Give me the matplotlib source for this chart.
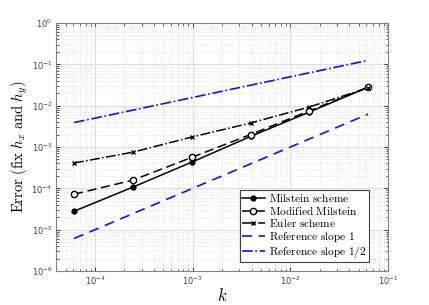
import matplotlib
matplotlib.use("Agg")
import matplotlib.pyplot as plt
from matplotlib.ticker import NullFormatter
import numpy as np

# step sizes k = 2^-14 ... 2^-4
k = [6.1035e-5, 2.4414e-4, 9.7656e-4, 3.9063e-3, 1.5625e-2, 6.25e-2]
err_milstein = [2.8e-5, 1.07e-4, 4.3e-4, 1.8e-3, 7.0e-3, 2.8e-2]
err_modified = [7.2e-5, 1.58e-4, 5.6e-4, 2.0e-3, 7.5e-3, 2.8e-2]
err_euler = [4.1e-4, 7.5e-4, 1.74e-3, 3.8e-3, 9.3e-3, 2.7e-2]
ref_slope1 = [0.1 * v for v in k]
ref_slope_half = [0.5 * np.sqrt(v) for v in k]
xticks = [1e-4, 1e-3, 1e-2, 1e-1]
yticks = [1e-6, 1e-5, 1e-4, 1e-3, 1e-2, 1e-1, 1e0]

fig = plt.figure(figsize=(4.29, 3.05), dpi=100)
ax = fig.add_axes([0.1305, 0.1115, 0.774, 0.813])

ax.loglog(k, err_milstein, '-', color='black', lw=1.1, marker='o', ms=3.5,
          label=r'$\mathrm{Milstein\ scheme}$')
ax.loglog(k, err_modified, '--', color='black', lw=1.1, marker='o', ms=4.5,
          mfc='white', dashes=(6, 3), label=r'$\mathrm{Modified\ Milstein}$')
ax.loglog(k, err_euler, '-.', color='black', lw=1.1, marker='x', ms=3,
          label=r'$\mathrm{Euler\ scheme}$')
ax.loglog(k, ref_slope1, '--', color='#1010f0', lw=1.2, dashes=(6, 4),
          label=r'$\mathrm{Reference\ slope\ 1}$')
ax.loglog(k, ref_slope_half, '-.', color='#1010f0', lw=1.2,
          label=r'$\mathrm{Reference\ slope\ 1/2}$')

ax.set_xticks(xticks)
ax.set_yticks(yticks)
ax.set_xlim(10**-4.4, 1e-1)
ax.set_ylim(1e-6, 1e0)
ax.xaxis.set_minor_formatter(NullFormatter())
ax.yaxis.set_minor_formatter(NullFormatter())

ax.grid(True, which='major', color='#dcdcdc', lw=0.7)
ax.grid(True, which='minor', color='#d0d0d0', lw=0.5, linestyle=':')
ax.set_axisbelow(True)
ax.tick_params(which='both', direction='in', top=True, right=True,
               labelsize=6, colors='#404040', labelcolor='#404040', pad=2.5)
ax.tick_params(which='major', length=3)
ax.tick_params(which='minor', length=1.8)
for s in ax.spines.values():
    s.set_color('#808080')
    s.set_linewidth(0.8)

ax.set_xlabel(r'$k$', fontsize=12, math_fontfamily='cm')
ax.xaxis.set_label_coords(0.5, -0.065)
ax.set_ylabel(r'$\mathrm{Error\ (fix\ }h_x\mathrm{\ and\ }h_y\mathrm{)}$',
              fontsize=10.5, math_fontfamily='cm')
ax.yaxis.set_label_coords(-0.078, 0.5)

leg = ax.legend(loc='lower right', fontsize=8.2, handlelength=2.0,
                handletextpad=0.4, borderpad=0.2, labelspacing=0.02,
                borderaxespad=0, fancybox=False, edgecolor='#404040',
                framealpha=1, bbox_to_anchor=(0.943, 0.036))
leg.get_frame().set_linewidth(0.8)
for t in leg.get_texts():
    t.set_math_fontfamily('cm')

fig.savefig('out.png', dpi=100)
